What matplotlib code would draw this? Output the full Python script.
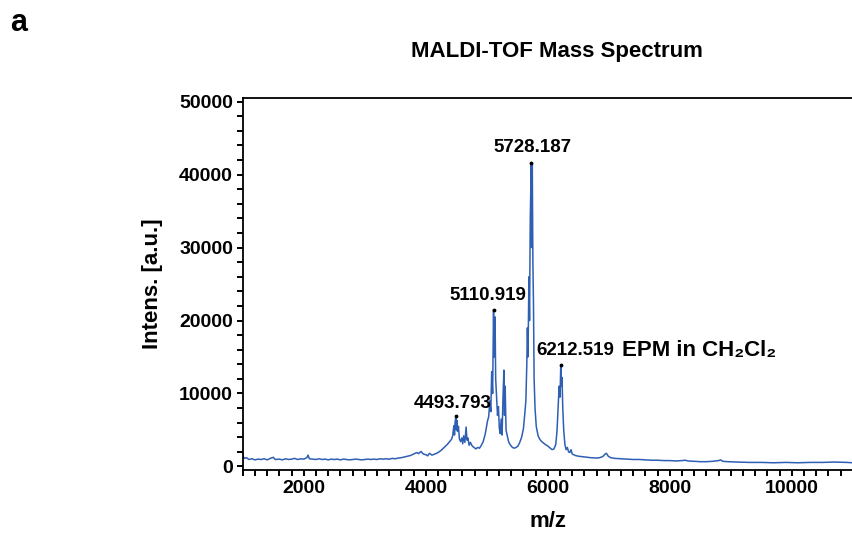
import matplotlib
matplotlib.use('Agg')
import matplotlib.pyplot as plt
from matplotlib.ticker import MultipleLocator

plt.rcParams['font.family'] = ['Liberation Sans', 'DejaVu Sans']

# spectrum (m/z, intensity)
mz = [1000, 1010, 1030, 1060, 1100, 1150, 1200, 1250, 1300, 1350, 1400, 1450, 1500, 1530,
      1600, 1650, 1700, 1750, 1800, 1850, 1900, 1950, 2000, 2050, 2070, 2090, 2150, 2200,
      2250, 2300, 2350, 2400, 2450, 2500, 2550, 2600, 2650, 2700, 2750, 2800, 2850, 2900,
      2950, 3000, 3050, 3100, 3150, 3200, 3250, 3300, 3350, 3400, 3450, 3500, 3550, 3600,
      3650, 3700, 3750, 3800, 3850, 3880, 3920, 3960, 4000, 4030, 4060, 4100, 4150, 4200,
      4250, 4300, 4350, 4390, 4420, 4440, 4460, 4470, 4480, 4493, 4500, 4510, 4520, 4535,
      4550, 4570, 4590, 4605, 4620, 4640, 4660, 4675, 4690, 4710, 4730, 4760, 4790, 4820,
      4850, 4880, 4910, 4940, 4970, 4990, 5010, 5030, 5050, 5065, 5080, 5095, 5110, 5120,
      5135, 5145, 5160, 5175, 5190, 5205, 5220, 5235, 5250, 5265, 5280, 5290, 5300, 5315,
      5335, 5360, 5390, 5420, 5450, 5480, 5510, 5540, 5570, 5600, 5620, 5640, 5655, 5665,
      5675, 5690, 5700, 5712, 5728, 5735, 5745, 5755, 5765, 5775, 5790, 5810, 5840, 5870,
      5900, 5930, 5960, 6000, 6040, 6070, 6100, 6130, 6150, 6170, 6185, 6200, 6212, 6222,
      6232, 6245, 6260, 6280, 6300, 6320, 6340, 6360, 6380, 6400, 6450, 6500, 6600, 6700,
      6800, 6850, 6900, 6940, 6960, 6990, 7030, 7100, 7200, 7300, 7400, 7500, 7600, 7700,
      7800, 7900, 8000, 8100, 8200, 8250, 8300, 8400, 8500, 8600, 8700, 8800, 8830, 8870,
      8950, 9100, 9300, 9500, 9700, 9900, 10100, 10300, 10500, 10700, 10900, 11000]
intens = [1900, 1300, 1100, 1200, 950, 1050, 900, 1000, 950, 1050, 900, 1100, 1250, 950,
          1000, 900, 1050, 950, 1000, 1100, 950, 1050, 1000, 1200, 1550, 1050, 1000, 950,
          1050, 950, 1000, 900, 1000, 950, 1000, 900, 1000, 950, 900, 950, 1000, 950,
          900, 950, 1000, 950, 1000, 950, 1050, 1000, 1050, 1000, 1100, 1050, 1150, 1200,
          1300, 1400, 1500, 1700, 1900, 1750, 2050, 1700, 1600, 1450, 1800, 1550, 1700, 1900,
          2200, 2600, 3000, 3400, 3700, 4200, 5600, 4300, 6100, 6900, 5000, 6300, 4800, 5500,
          3800, 3400, 3900, 3100, 4200, 3300, 5400, 3600, 3900, 2900, 3300, 2800, 2600, 2400,
          2600, 2500, 2900, 3400, 4300, 5200, 6200, 6800, 9000, 7500, 13000, 10000, 21500, 15000,
          20500, 12000, 9500, 7000, 8200, 5200, 4500, 6500, 4300, 9500, 13200, 7000, 11000, 5000,
          4200, 3300, 2900, 2600, 2500, 2600, 2800, 3300, 4000, 5200, 7000, 9000, 14000, 19000,
          15000, 26000, 20000, 34000, 41600, 30000, 41500, 28000, 22000, 12000, 8000, 5500, 4200, 3700,
          3400, 3200, 3000, 2800, 2500, 2300, 2400, 3000, 4800, 8500, 11000, 9500, 13900, 11000,
          12200, 8000, 5000, 3000, 2300, 2600, 2000, 1900, 2300, 1700, 1500, 1400, 1300, 1200,
          1150, 1200, 1350, 1700, 1800, 1400, 1200, 1100, 1050, 1000, 950, 950, 900, 850,
          850, 800, 800, 750, 800, 850, 750, 700, 650, 650, 700, 800, 900, 700,
          650, 600, 550, 550, 500, 550, 500, 550, 550, 600, 550, 500]

peak_mz = [4493.793, 5110.919, 5728.187, 6212.519]
peak_int = [6900, 21500, 41600, 13900]
peak_labels = ['4493.793', '5110.919', '5728.187', '6212.519']

fig = plt.figure(figsize=(8.52, 5.36), dpi=100)
ax = fig.add_axes([0.285, 0.123, 0.716, 0.694])

ax.plot(mz, intens, color='#2f5fb3', lw=1.1)
ax.scatter(peak_mz, peak_int, s=3, color='black', zorder=3)

ax.set_xlim(1000, 11000)
ax.set_ylim(-500, 50500)
ax.xaxis.set_major_locator(MultipleLocator(2000))
ax.xaxis.set_minor_locator(MultipleLocator(200))
ax.yaxis.set_major_locator(MultipleLocator(10000))
ax.yaxis.set_minor_locator(MultipleLocator(2000))
ax.tick_params(which='both', direction='out', length=4, width=1.4, color='black')
ax.tick_params(axis='both', labelsize=14, pad=3)
for lab in ax.get_xticklabels() + ax.get_yticklabels():
    lab.set_fontweight('bold')
for s in ax.spines.values():
    s.set_linewidth(1.3)

ax.set_xlabel('m/z', fontsize=16, fontweight='bold', labelpad=10)
ax.set_ylabel('Intens. [a.u.]', fontsize=16, fontweight='bold', labelpad=12)

# peak labels
ax.text(4443, 8600, peak_labels[0], ha='center', va='center', fontsize=13.5, fontweight='bold')
ax.text(5016, 23500, peak_labels[1], ha='center', va='center', fontsize=13.5, fontweight='bold')
ax.text(5754, 43700, peak_labels[2], ha='center', va='center', fontsize=13.5, fontweight='bold')
ax.text(5810, 15900, peak_labels[3], ha='left', va='center', fontsize=13.5, fontweight='bold')
ax.text(7220, 15900, 'EPM in CH₂Cl₂', ha='left', va='center', fontsize=16, fontweight='bold')

fig.text(0.654, 0.904, 'MALDI-TOF Mass Spectrum', ha='center', va='center',
         fontsize=16, fontweight='bold')
fig.text(0.012, 0.958, 'a', ha='left', va='center', fontsize=22, fontweight='bold')

fig.savefig('out.png', dpi=100)
